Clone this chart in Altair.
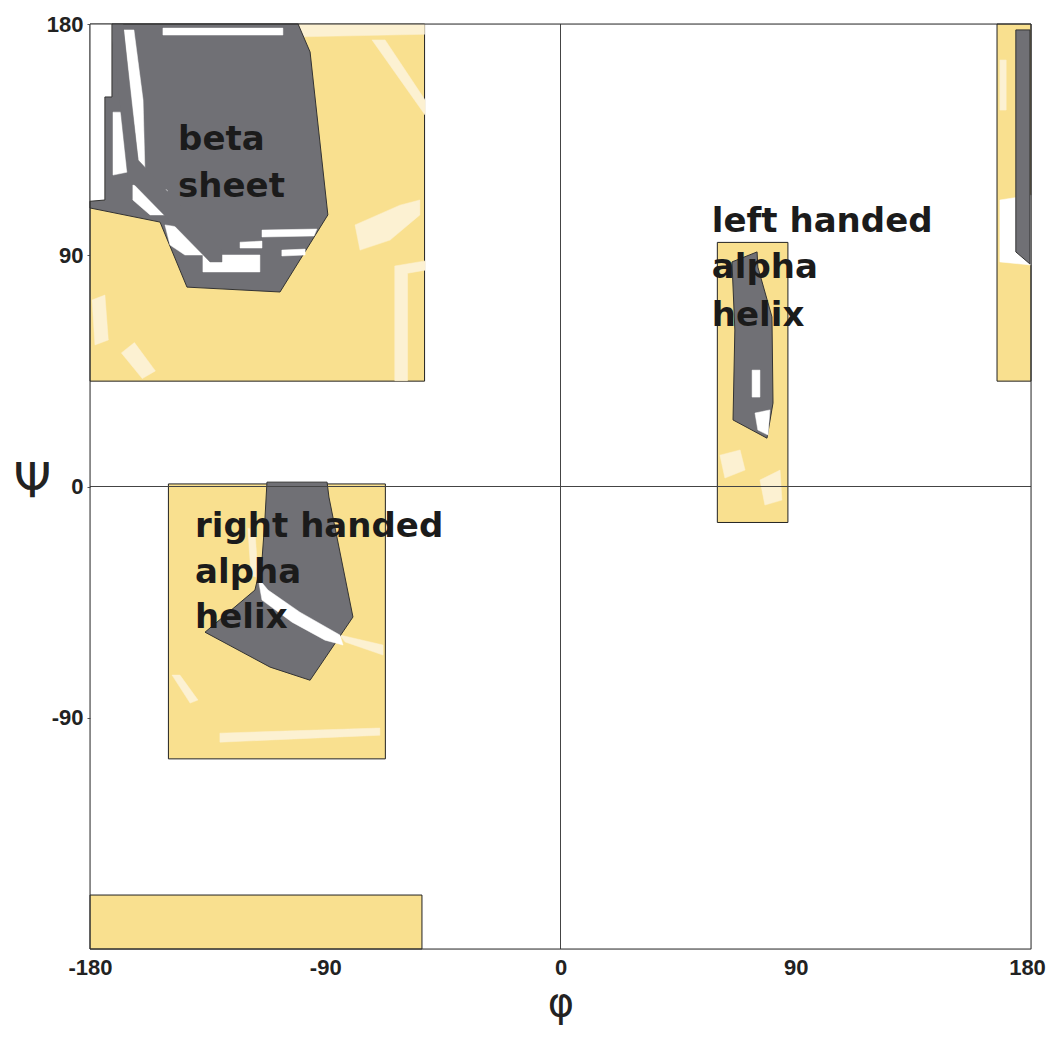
import altair as alt
import pandas as pd

# ---- axis ticks ----
phi_ticks = [-180, -90, 0, 90, 180]
psi_ticks = [-90, 0, 90, 180]

# ---- plot frame ----
frame_phi = [-180, 180]
frame_psi = [-180, 180]

# ---- allowed (yellow) regions: phi1, phi2, psi1, psi2 ----
allowed_phi1 = [-180, -150, 60, 167, -180]
allowed_phi2 = [-52, -67, 87, 180, -53]
allowed_psi1 = [41, -106, -14, 41, -180]
allowed_psi2 = [180, 1, 95, 180, -159]

# ---- white area left of the beta stripe ----
white_left = {
    "tl_left": ([-180, -171.6, -171.6, -174.3, -174.3, -180], [180, 180, 151.6, 151.6, 111.5, 111]),
    "re_e1": ([168.1, 180, 180, 168.1], [111.5, 113.4, 86.2, 87.4]),
}

# ---- pale speckle patches inside the yellow regions ----
ywhite = {
    "tl_y1": ([-63.4, -51.8, -51.8, -58.5, -58.5, -63.4], [85.8, 87.8, 84.2, 83.0, 41.2, 41.2]),
    "tl_y2": ([-72.1, -67.1, -51.8, -51.8], [173.8, 173.8, 150.4, 144.6]),
    "tl_y3": ([-179.2, -174.3, -173.0, -178.1], [72.6, 74.5, 57.0, 55.1]),
    "tl_y4": ([-78.6, -61.4, -53.8, -53.8, -65.2, -76.7], [101.8, 109.5, 111.5, 105.7, 95.9, 92.0]),
    "tl_top": ([-100.0, -52.0, -52.0, -100.0], [180, 180, 176.0, 175.0]),
    "tl_y5": ([-168.0, -163.0, -155.0, -160.0], [52.0, 56.0, 45.0, 42.0]),
    "ra_r1": ([-130.3, -69.1, -69.1, -130.3], [-96.0, -94.0, -96.8, -99.5]),
    "ra_r2": ([-148.6, -145.6, -138.7, -141.7], [-73.4, -73.4, -83.1, -84.3]),
    "ra_r3": ([-84.4, -67.9, -67.9, -82.4], [-57.8, -61.7, -65.6, -60.5]),
    "ra_r4": ([-119.6, -116.9, -115.7, -118.4], [-16.2, -17.0, -35.6, -34.5]),
    "la_l1": ([61.0, 68.7, 70.6, 62.9], [12.2, 14.2, 6.4, 3.3]),
    "la_l2": ([76.3, 84.0, 84.7, 78.2], [2.5, 6.4, -5.3, -7.2]),
    "re_e2": ([168.1, 170.5, 170.5, 168.1], [166.0, 166.0, 146.5, 146.5]),
}

# ---- most favoured (grey) regions ----
grey = {
    "beta": ([-171.6, -100.4, -95.8, -89.0, -107.3, -142.9, -153.2, -180, -180, -174.3, -174.3, -171.6],
             [180, 180, 169.1, 105.7, 75.7, 77.6, 102.9, 108.4, 111.0, 111.5, 151.6, 151.6]),
    "alpha_r": ([-112.3, -89.3, -88.6, -79.4, -95.8, -111.1, -136.0, -116.9, -114.2, -113.1],
                [1.7, 1.7, -4.1, -50.8, -75.4, -70.3, -56.7, -40.3, -28.6, -13.1]),
    "alpha_l": ([65.6, 75.2, 75.5, 80.9, 81.3, 79.0, 66.0, 66.7],
                [87.4, 91.3, 85.4, 66.0, 32.5, 18.8, 25.9, 60.9]),
    "edge": ([174.2, 179.6, 179.6, 174.2], [177.7, 177.7, 86.6, 91.3]),
}

# ---- white gaps inside the grey regions ----
gwhite = {
    "b_gap": ([-167.0, -163.2, -159.7, -159.0, -160.9, -164.3], [177.7, 177.7, 150.4, 123.2, 122.4, 150.4]),
    "b_wb": ([-171.2, -166.2, -165.5, -171.2], [145.7, 145.7, 122.4, 121.2]),
    "b_wc": ([-163.6, -150.5, -150.5, -157.0, -163.6], [117.3, 115.4, 105.7, 105.7, 111.5]),
    "b_wd": ([-136.8, -115.0, -115.0, -136.8], [90.1, 90.1, 83.5, 83.5]),
    "b_we": ([-151.3, -143.7, -136.0, -143.7, -149.4], [101.8, 100.6, 90.1, 90.1, 94.0]),
    "b_wf": ([-114.2, -93.2, -94.3, -114.2], [99.8, 100.2, 97.5, 97.1]),
    "b_wg": ([-122.6, -114.2, -114.2, -122.6], [95.1, 95.5, 92.8, 92.8]),
    "b_wh": ([-106.6, -97.7, -97.7, -106.6], [92.0, 92.4, 90.1, 89.7]),
    "b_top": ([-152.1, -106.2, -106.2, -152.1], [178.4, 178.4, 175.7, 175.7]),
    "ar_band": ([-115.7, -111.9, -99.7, -84.4, -83.2, -90.1, -102.7, -114.2],
                [-35.6, -40.3, -48.9, -57.8, -61.7, -59.8, -52.8, -44.2]),
    "al_w1": ([73.3, 76.3, 76.3, 73.3], [45.3, 45.3, 34.8, 34.8]),
    "al_w2": ([74.4, 80.1, 79.4, 75.5], [28.6, 29.8, 20.0, 22.0]),
}

# ---- grey diagonal stripe in the beta region (drawn over the gaps) ----
stripe = {
    "stripe": ([-171.2, -167.4, -161.6, -129.5, -129.5, -134.1, -165.5, -171.2],
               [180, 180, 127.1, 92.0, 87.4, 87.4, 120.1, 173.8]),
}

# ---- region labels ----
label_text = ["beta", "sheet", "left handed", "alpha", "helix", "right handed", "alpha", "helix"]
label_phi = [-146.3, -146.3, 57.9, 57.9, 57.9, -139.8, -139.8, -139.8]
label_psi = [134.8, 116.6, 102.9, 85.0, 66.3, -15.8, -33.7, -51.2]

YELLOW = "#F9E08F"
PALE = "#FCF1D2"
GREY = "#707075"
WHITE = "#FFFFFF"


def poly_df(polys):
    rows = []
    for name, (ph, ps) in polys.items():
        pts = list(zip(ph, ps)) + [(ph[0], ps[0])]
        for i, (a, b) in enumerate(pts):
            rows.append({"id": name, "i": i, "phi": a, "psi": b})
    return pd.DataFrame(rows)


xs = alt.Scale(domain=[-180, 180], nice=False, zero=False)
ys = alt.Scale(domain=[-180, 180], nice=False, zero=False)

X = alt.X("phi:Q", scale=xs, axis=alt.Axis(
    values=phi_ticks, title="φ", grid=False, domain=False, ticks=False,
    labelExpr="'' + datum.value",
    labelOffset={"expr": "datum.value == 180 ? -4 : 0"},
    labelFont="Liberation Sans", labelFontWeight="bold", labelFontSize=22, labelColor="#222",
    labelPadding=8, titleFont="DejaVu Sans", titleFontSize=40, titleFontWeight="normal",
    titleColor="#222", titleY=66, titleBaseline="alphabetic", labelFlush=False))
Y = alt.Y("psi:Q", scale=ys, axis=alt.Axis(
    values=psi_ticks, title="Ψ", grid=False, domain=False, tickSize=3, tickColor="#555",
    labelExpr="'' + datum.value",
    labelFont="Liberation Sans", labelFontWeight="bold", labelFontSize=22, labelColor="#222",
    labelPadding=4, titleFont="DejaVu Sans", titleFontSize=48, titleFontWeight="normal",
    titleColor="#222", titleAngle=0, titleX=-58, titleY=458, titleAlign="center",
    titleBaseline="middle", labelFlush=False))

rect_df = pd.DataFrame({"phi": allowed_phi1, "phi2": allowed_phi2, "psi": allowed_psi1, "psi2": allowed_psi2})
rects = alt.Chart(rect_df).mark_rect(fill=YELLOW, stroke="#222", strokeWidth=1).encode(
    x=X, x2="phi2:Q", y=Y, y2="psi2:Q")


def poly_layer(polys, fill, stroke=None, sw=0.5):
    return alt.Chart(poly_df(polys)).mark_line(
        fill=fill, stroke=stroke if stroke else fill, strokeWidth=sw, interpolate="linear"
    ).encode(
        x=alt.X("phi:Q", scale=xs), y=alt.Y("psi:Q", scale=ys),
        detail="id:N", order="i:Q")


wl = poly_layer(white_left, WHITE)
yw = poly_layer(ywhite, PALE)
gr = poly_layer(grey, GREY, "#333", 1)
gw = poly_layer(gwhite, WHITE)
st = poly_layer(stripe, GREY)

cross_v = alt.Chart(pd.DataFrame({"phi": [0]})).mark_rule(color="#444", strokeWidth=1).encode(
    x=alt.X("phi:Q", scale=xs))
cross_h = alt.Chart(pd.DataFrame({"psi": [0]})).mark_rule(color="#444", strokeWidth=1).encode(
    y=alt.Y("psi:Q", scale=ys))

frame = alt.Chart(pd.DataFrame({"phi": [frame_phi[0]], "phi2": [frame_phi[1]],
                                "psi": [frame_psi[0]], "psi2": [frame_psi[1]]})).mark_rect(
    fill=None, fillOpacity=0, stroke="#333", strokeWidth=1).encode(
    x=alt.X("phi:Q", scale=xs), x2="phi2:Q", y=alt.Y("psi:Q", scale=ys), y2="psi2:Q")

lab_df = pd.DataFrame({"t": label_text, "phi": label_phi, "psi": label_psi})
labels = alt.Chart(lab_df).mark_text(
    align="left", baseline="middle", font="DejaVu Sans", fontWeight="bold", fontSize=34, color="#1b1b1b"
).encode(x=alt.X("phi:Q", scale=xs), y=alt.Y("psi:Q", scale=ys), text="t:N")

chart = alt.layer(rects, wl, yw, gr, gw, st, cross_v, cross_h, frame, labels).properties(
    width=941, height=925,
    autosize=alt.AutoSizeParams(type="none"),
    padding={"left": 82, "top": 16, "right": 16, "bottom": 80},
).configure_view(strokeWidth=0).configure(background="white")

chart.save("out.html", embed_options={"renderer": "svg", "actions": False})
